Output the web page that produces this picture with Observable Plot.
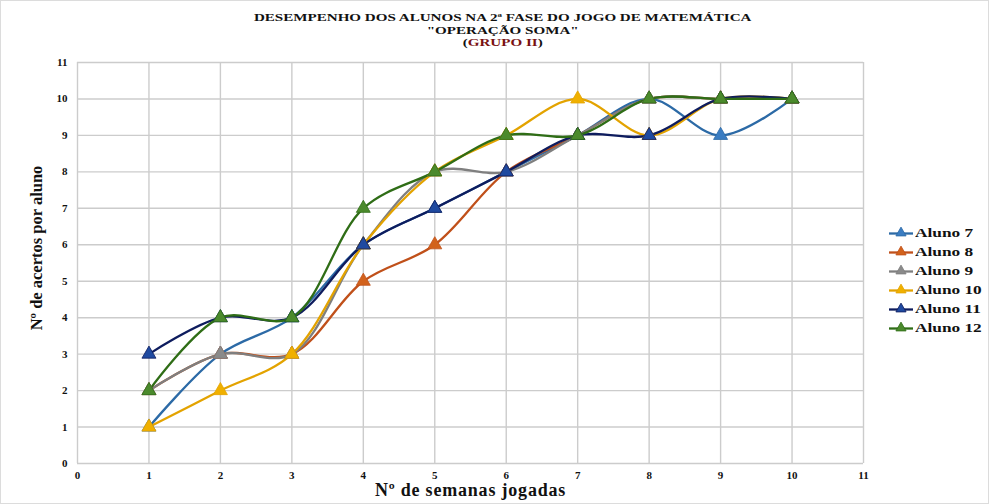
<!DOCTYPE html>
<html>
<head>
<meta charset="utf-8">
<script src="https://cdn.jsdelivr.net/npm/d3@7"></script>
<script src="https://cdn.jsdelivr.net/npm/@observablehq/plot@0.6"></script>
<style>
  html, body { margin: 0; padding: 0; background: #fff; }
  #chart { position: relative; width: 987px; height: 502px; border: 1px solid #dcdcdc; overflow: hidden; font-family: "Liberation Serif", serif; }
  #title { position: absolute; left: 0; top: 10px; width: 1003px; text-align: center; font-weight: bold; font-size: 11px; line-height: 12.5px; color: #111; transform: scaleX(1.37); transform-origin: 501px 0; }
  #title .grupo { color: #7a1212; }
  #plot { position: absolute; left: 0; top: 55px; }
  #legend { position: absolute; left: 887px; top: 222px; }
  #legend .item { display: flex; align-items: center; height: 19px; font-weight: bold; font-size: 13.5px; color: #111; }
  #legend .item span { display: inline-block; transform: scaleX(1.28); transform-origin: 0 50%; }
  #legend svg { margin-right: 1px; }
</style>
</head>
<body>
<div id="chart">
  <div id="title">DESEMPENHO DOS ALUNOS NA 2ª FASE DO JOGO DE MATEMÁTICA<br>"OPERAÇÃO SOMA"<br>(<span class="grupo">GRUPO II</span>)</div>
  <div id="plot"></div>
  <div id="legend"></div>
</div>
<script>
// Semanas jogadas e número de acertos de cada aluno
const semanas = [1, 2, 3, 4, 5, 6, 7, 8, 9, 10];
const aluno7  = [1, 3, 4, 6, 7, 8, 9, 10, 9, 10];
const aluno8  = [2, 3, 3, 5, 6, 8, 9, 10, 10, 10];
const aluno9  = [2, 3, 3, 6, 8, 8, 9, 10, 10, 10];
const aluno10 = [1, 2, 3, 6, 8, 9, 10, 9, 10, 10];
const aluno11 = [3, 4, 4, 6, 7, 8, 9, 9, 10, 10];
const aluno12 = [2, 4, 4, 7, 8, 9, 9, 10, 10, 10];

const nomes = ["Aluno 7", "Aluno 8", "Aluno 9", "Aluno 10", "Aluno 11", "Aluno 12"];
const valores = [aluno7, aluno8, aluno9, aluno10, aluno11, aluno12];
const coresLinha = ["#2c6aa6", "#c0501a", "#7f7f7f", "#e3a300", "#0e1c5e", "#2f6d16"];
const coresMarca = ["#3b7dc2", "#d2621c", "#8a8a8a", "#f0b000", "#1f4aa0", "#4b8a2c"];
const ticks = d3.range(0, 12);

const linhas = nomes.flatMap((nome, i) =>
  semanas.map((s, j) => ({ aluno: nome, semana: s, acertos: valores[i][j] }))
);

const fonte = "Liberation Serif, serif";

const grafico = Plot.plot({
  width: 987,
  height: 447,
  marginTop: 6,
  marginLeft: 76,
  marginRight: 125,
  marginBottom: 40,
  style: { fontFamily: fonte, background: "transparent", color: "#111" },
  x: { domain: [0, 11], ticks, label: null },
  y: { domain: [0, 11], ticks, label: null },
  marks: [
    Plot.gridX(ticks, { stroke: "#cccccc", strokeOpacity: 1, strokeWidth: 1.4 }),
    Plot.gridY(ticks, { stroke: "#cccccc", strokeOpacity: 1, strokeWidth: 1.4 }),
    Plot.axisX(ticks, { tickSize: 0, tickPadding: 8, fontSize: 11, fontWeight: "bold", fontFamily: fonte, label: null }),
    Plot.axisY(ticks, { tickSize: 0, tickPadding: 10, fontSize: 11, fontWeight: "bold", fontFamily: fonte, label: null }),
    Plot.text(["Nº de semanas jogadas"], {
      frameAnchor: "bottom", lineAnchor: "bottom", textAnchor: "middle", dy: 32,
      fontSize: 18, fontWeight: "bold", fontFamily: fonte, className: "rotulo-x"
    }),
    Plot.text(["Nº de acertos por aluno"], {
      frameAnchor: "left", textAnchor: "middle", lineAnchor: "middle", dx: -41, dy: -15, rotate: -90,
      fontSize: 16.5, fontWeight: "bold", fontFamily: fonte
    }),
    ...nomes.map((nome, i) =>
      Plot.line(linhas.filter(d => d.aluno === nome), {
        x: "semana", y: "acertos", stroke: coresLinha[i], strokeWidth: 2.3, curve: "catmull-rom"
      })
    ),
    ...nomes.map((nome, i) =>
      Plot.dot(linhas.filter(d => d.aluno === nome), {
        x: "semana", y: "acertos", symbol: "triangle", r: 5.2,
        fill: coresMarca[i], stroke: coresLinha[i], strokeWidth: 0.8
      })
    )
  ]
});
d3.select(grafico).selectAll(".rotulo-x text").style("letter-spacing", "0.8px");
document.getElementById("plot").appendChild(grafico);

// Legenda com linha e marcador triangular
const legenda = d3.select("#legend");
nomes.forEach((nome, i) => {
  const item = legenda.append("div").attr("class", "item");
  const sw = item.append("svg").attr("width", 26).attr("height", 14);
  sw.append("line").attr("x1", 1).attr("x2", 25).attr("y1", 7.5).attr("y2", 7.5)
    .attr("stroke", coresLinha[i]).attr("stroke-width", 2.3);
  sw.append("path").attr("d", d3.symbol(d3.symbolTriangle, 45)()).attr("transform", "translate(13,7)")
    .attr("fill", coresMarca[i]).attr("stroke", coresLinha[i]).attr("stroke-width", 0.8);
  item.append("span").text(nome);
});
</script>
</body>
</html>
